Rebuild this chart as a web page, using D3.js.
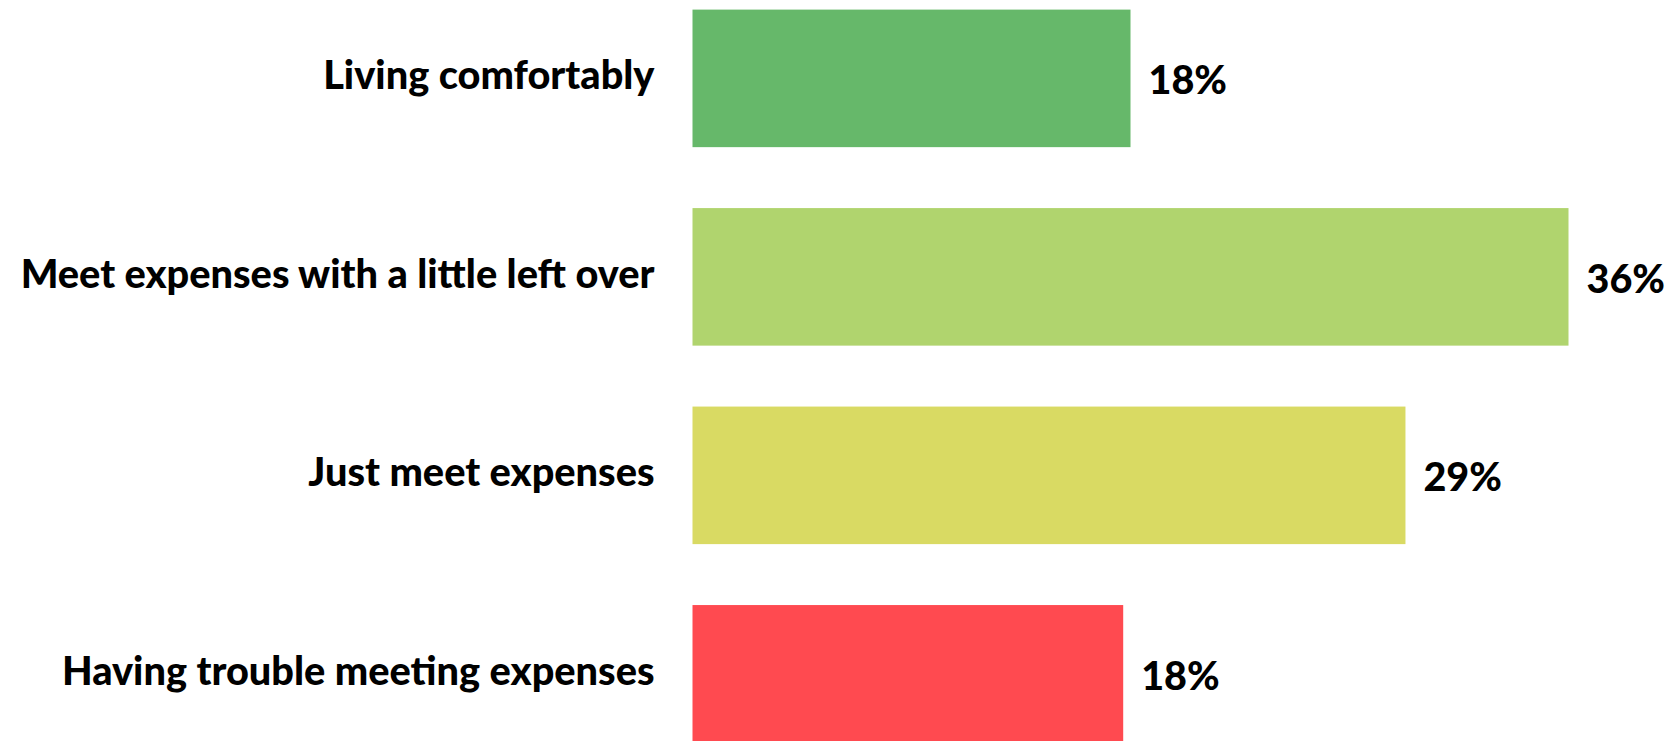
<!DOCTYPE html>
<html>
<head>
<meta charset="utf-8">
<script src="https://cdn.jsdelivr.net/npm/d3@7"></script>
<style>
  html, body { margin: 0; padding: 0; background: #ffffff; }
  svg { display: block; }
  text { font-family: Lato, "Open Sans", sans-serif; font-weight: 900; fill: #000; }
</style>
</head>
<body>
<svg id="chart" width="1673" height="741"></svg>
<script>
// Household financial situation, share of respondents (%)
const categories = [
  "Living comfortably",
  "Meet expenses with a little left over",
  "Just meet expenses",
  "Having trouble meeting expenses"
];
const values = [18.0, 36.0, 29.3, 17.7];
const colors = ["#66b86a", "#b0d46e", "#d9da63", "#ff4a50"];

const svg = d3.select("#chart");

const x = d3.scaleLinear()
  .domain([0, d3.max(values)])
  .range([692.5, 1568.5]);

const y = d3.scaleBand()
  .domain(categories)
  .range([9.6, 742.6])
  .paddingInner(0.307)
  .paddingOuter(0);

const fmt = d => d3.format(".0f")(d) + "%";

const rows = svg.selectAll("g.row")
  .data(categories.map((c, i) => ({ c, v: values[i], col: colors[i] })))
  .join("g")
  .attr("class", "row");

rows.append("rect")
  .attr("x", x(0))
  .attr("y", d => y(d.c))
  .attr("width", d => x(d.v) - x(0))
  .attr("height", y.bandwidth())
  .attr("fill", d => d.col);

// Category labels, right-aligned against the bars
rows.append("text")
  .attr("x", x(0) - 38)
  .attr("y", d => y(d.c) + y.bandwidth() / 2 + 11)
  .attr("text-anchor", "end")
  .style("font-size", "39.7px")
  .text(d => d.c);

// Value labels at the end of each bar
rows.append("text")
  .attr("x", d => x(d.v) + 18)
  .attr("y", d => y(d.c) + y.bandwidth() / 2 + 16)
  .attr("text-anchor", "start")
  .style("font-size", "39.5px")
  .text(d => fmt(d.v));
</script>
</body>
</html>
